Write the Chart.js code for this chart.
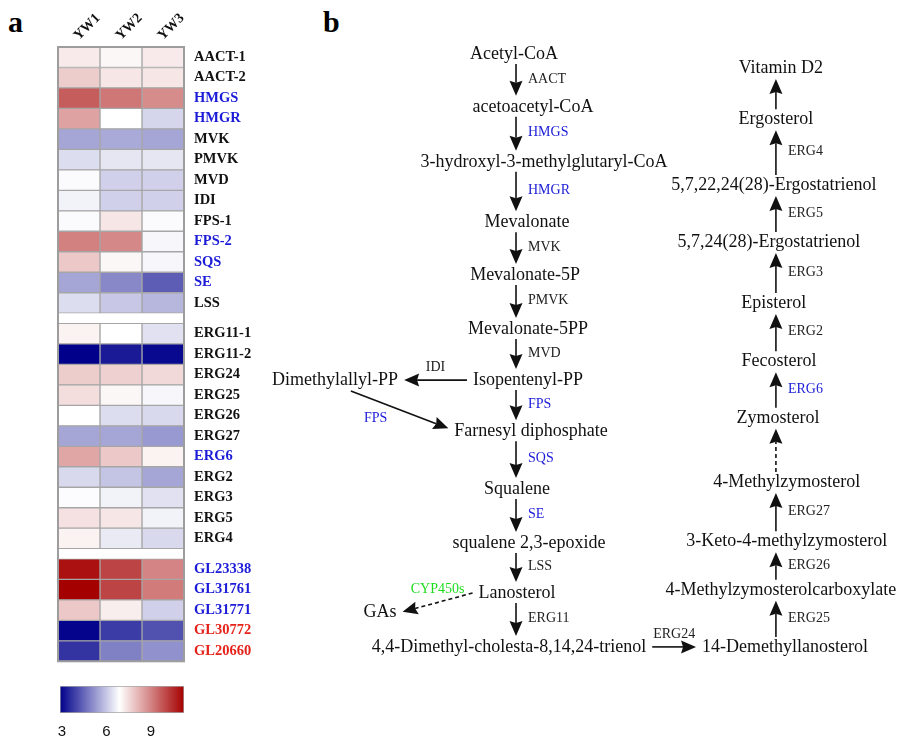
<!DOCTYPE html>
<html>
<head>
<meta charset="utf-8">
<script src="https://cdn.jsdelivr.net/npm/chart.js@4.4.0/dist/chart.umd.min.js"></script>
<style>
  body { margin: 0; background: #fff; }
  #wrap { position: relative; width: 909px; height: 747px; overflow: hidden; background: #fff; }
  canvas { position: absolute; }
  .panel { position: absolute; font: bold 30px "Liberation Serif", serif; line-height: 30px; color: #000; }
</style>
</head>
<body>
<div id="wrap">
  <div class="panel" style="left:8px;top:7px">a</div>
  <div class="panel" style="left:323px;top:7px">b</div>
  <canvas id="heat" width="270" height="680" style="left:0;top:0"></canvas>
  <canvas id="scale" width="270" height="67" style="left:0;top:680px"></canvas>
  <canvas id="path" width="649" height="747" style="left:260px;top:0"></canvas>
</div>
<script>
// ---- heatmap data (a) ----
const columns = ["YW1", "YW2", "YW3"];
const genes = ["AACT-1", "AACT-2", "HMGS", "HMGR", "MVK", "PMVK", "MVD", "IDI", "FPS-1", "FPS-2", "SQS", "SE", "LSS",
  "ERG11-1", "ERG11-2", "ERG24", "ERG25", "ERG26", "ERG27", "ERG6", "ERG2", "ERG3", "ERG5", "ERG4",
  "GL23338", "GL31761", "GL31771", "GL30772", "GL20660"];
const geneGroup = [0,0,0,0,0,0,0,0,0,0,0,0,0, 1,1,1,1,1,1,1,1,1,1,1, 2,2,2,2,2];
const blueGenes = ["HMGS", "HMGR", "FPS-2", "SQS", "SE", "ERG6", "GL23338", "GL31761", "GL31771"];
const redGenes = ["GL30772", "GL20660"];

const yw1 = [6.25, 6.6, 7.9, 7.1, 4.95, 5.6, 5.95, 5.85, 5.95, 7.5, 6.65, 4.95, 5.6,
  6.15, 3.0, 6.6, 6.4, 6.0, 4.95, 7.05, 5.55, 5.97, 6.35, 6.15,
  8.8, 9.0, 6.65, 3.05, 3.6];
const yw2 = [6.1, 6.3, 7.6, 6.0, 5.0, 5.7, 5.45, 5.45, 6.3, 7.4, 6.1, 4.6, 5.35,
  6.0, 3.3, 6.55, 6.1, 5.6, 4.95, 6.65, 5.3, 5.85, 6.3, 5.75,
  8.2, 8.2, 6.2, 3.7, 4.5];
const yw3 = [6.25, 6.3, 7.35, 5.5, 4.95, 5.7, 5.45, 5.45, 5.95, 5.9, 5.9, 4.1, 5.15,
  5.65, 3.1, 6.45, 5.9, 5.55, 4.8, 6.15, 4.95, 5.65, 5.85, 5.55,
  7.45, 7.55, 5.45, 3.95, 4.7];

// colour key
const scaleTicks = [3, 6, 9];
const scaleRange = [2.87, 11.23];

// ---- pathway (b) ----
const nodes = ["Acetyl-CoA", "acetoacetyl-CoA", "3-hydroxyl-3-methylglutaryl-CoA", "Mevalonate", "Mevalonate-5P",
  "Mevalonate-5PP", "Isopentenyl-PP", "Farnesyl diphosphate", "Squalene", "squalene 2,3-epoxide", "Lanosterol",
  "4,4-Dimethyl-cholesta-8,14,24-trienol", "Dimethylallyl-PP", "GAs",
  "Vitamin D2", "Ergosterol", "5,7,22,24(28)-Ergostatrienol", "5,7,24(28)-Ergostatrienol", "Episterol",
  "Fecosterol", "Zymosterol", "4-Methylzymosterol", "3-Keto-4-methylzymosterol",
  "4-Methylzymosterolcarboxylate", "14-Demethyllanosterol"];
// text centre (x) and level (row); nodeCol = column the arrows run in
const nodeX = [-0.008, 0.065, 0.108, 0.042, 0.035, 0.046, 0.046, 0.058, 0.004, 0.05, 0.004, -0.027, -0.696, -0.523,
  1.019, 1.0, 0.992, 0.973, 0.992, 1.012, 1.008, 1.042, 1.042, 1.019, 1.035];
const nodeRow = [0, 0.98, 2.0, 3.12, 4.1, 5.1, 6.05, 7.0, 8.07, 9.07, 10.0, 11.0, 6.05, 10.35,
  0.26, 1.21, 2.43, 3.49, 4.62, 5.7, 6.75, 7.94, 9.04, 9.94, 11.0];
const nodeCol = [0,0,0,0,0,0,0,0,0,0,0,0, null, null, 1,1,1,1,1,1,1,1,1,1,1];

// [from, to, enzyme, dashed]
const steps = [
  ["Acetyl-CoA", "acetoacetyl-CoA", "AACT"],
  ["acetoacetyl-CoA", "3-hydroxyl-3-methylglutaryl-CoA", "HMGS"],
  ["3-hydroxyl-3-methylglutaryl-CoA", "Mevalonate", "HMGR"],
  ["Mevalonate", "Mevalonate-5P", "MVK"],
  ["Mevalonate-5P", "Mevalonate-5PP", "PMVK"],
  ["Mevalonate-5PP", "Isopentenyl-PP", "MVD"],
  ["Isopentenyl-PP", "Dimethylallyl-PP", "IDI"],
  ["Isopentenyl-PP", "Farnesyl diphosphate", "FPS"],
  ["Dimethylallyl-PP", "Farnesyl diphosphate", "FPS"],
  ["Farnesyl diphosphate", "Squalene", "SQS"],
  ["Squalene", "squalene 2,3-epoxide", "SE"],
  ["squalene 2,3-epoxide", "Lanosterol", "LSS"],
  ["Lanosterol", "GAs", "CYP450s", true],
  ["Lanosterol", "4,4-Dimethyl-cholesta-8,14,24-trienol", "ERG11"],
  ["4,4-Dimethyl-cholesta-8,14,24-trienol", "14-Demethyllanosterol", "ERG24"],
  ["14-Demethyllanosterol", "4-Methylzymosterolcarboxylate", "ERG25"],
  ["4-Methylzymosterolcarboxylate", "3-Keto-4-methylzymosterol", "ERG26"],
  ["3-Keto-4-methylzymosterol", "4-Methylzymosterol", "ERG27"],
  ["4-Methylzymosterol", "Zymosterol", "", true],
  ["Zymosterol", "Fecosterol", "ERG6"],
  ["Fecosterol", "Episterol", "ERG2"],
  ["Episterol", "5,7,24(28)-Ergostatrienol", "ERG3"],
  ["5,7,24(28)-Ergostatrienol", "5,7,22,24(28)-Ergostatrienol", "ERG5"],
  ["5,7,22,24(28)-Ergostatrienol", "Ergosterol", "ERG4"],
  ["Ergosterol", "Vitamin D2", ""]
];
const blueEnzymes = ["HMGS", "HMGR", "FPS", "SQS", "SE", "ERG6"];
const greenEnzymes = ["CYP450s"];

// ---- styles ----
const NAVY = [0, 0, 139], WHITE = [255, 255, 255], RED = [165, 0, 0];
const LOW = 3, MID = 6, HIGH = 9;
const BLUE = "#1c1cd8", REDTXT = "#e5231b", GREEN = "#1fdc1f";
const SERIF = "'Liberation Serif', 'Times New Roman', serif";

let mix = function(c1, c2, t){
  t = Math.max(0, Math.min(1, t));
  return "rgb(" + c1.map((v, k) => Math.round(v + (c2[k] - v) * t)).join(",") + ")";
}
let heatColor = function(v){
  if(v < MID) return mix(WHITE, NAVY, (MID - v) / (MID - LOW));
  return mix(WHITE, RED, (v - MID) / (HIGH - MID));
}
let geneLabelColor = function(g){
  if(blueGenes.includes(g)) return BLUE;
  if(redGenes.includes(g)) return REDTXT;
  return "#111";
}

const rowPos = genes.map((g, i) => i + 0.5 + geneGroup[i] * 0.5);
const rowMax = rowPos[rowPos.length - 1] + 0.5;
const series = [yw1, yw2, yw3];

const frame = {
  id: "frame",
  afterDatasetsDraw(chart){
    const {ctx, chartArea: a} = chart;
    ctx.save();
    ctx.strokeStyle = "#9d9d9d";
    ctx.lineWidth = 2;
    ctx.strokeRect(a.left, a.top, a.right - a.left, a.bottom - a.top);
    ctx.restore();
  }
};

new Chart(document.getElementById("heat"), {
  type: "bar",
  data: {
    datasets: series.map((vals, c) => ({
      label: columns[c],
      data: vals.map((v, i) => ({x: [c, c + 1], y: rowPos[i]})),
      backgroundColor: vals.map(heatColor),
      borderColor: "#a6a6a6",
      borderWidth: 1,
      borderSkipped: false,
      grouped: false,
      categoryPercentage: 1,
      barPercentage: 1
    }))
  },
  options: {
    indexAxis: "y",
    responsive: false,
    animation: false,
    layout: {padding: {left: 58, right: 0, top: 0, bottom: 6}},
    plugins: {legend: {display: false}, tooltip: {enabled: false}},
    scales: {
      x: {
        type: "linear", position: "top", min: 0, max: columns.length,
        grid: {display: false, drawTicks: false}, border: {display: false},
        afterBuildTicks: s => { s.ticks = columns.map((c, i) => ({value: i + 0.5})); },
        afterFit: s => { s.height = 47; },
        ticks: {
          autoSkip: false, minRotation: 45, maxRotation: 45, padding: 3, labelOffset: 9, color: "#111",
          font: {family: SERIF, size: 14, weight: "bold"},
          callback: v => columns[Math.floor(v)]
        }
      },
      y: {
        type: "linear", position: "right", reverse: true, min: 0, max: rowMax, offset: false,
        grid: {display: false, drawTicks: false}, border: {display: false},
        afterBuildTicks: s => { s.ticks = rowPos.map(v => ({value: v})); },
        afterFit: s => { s.width = 86; },
        ticks: {
          autoSkip: false, padding: 10,
          font: {family: SERIF, size: 14.5, weight: "bold"},
          color: ctx => geneLabelColor(genes[ctx.index]),
          callback: (v, i) => genes[i]
        }
      }
    }
  },
  plugins: [frame]
});

// colour key
new Chart(document.getElementById("scale"), {
  type: "bar",
  data: {
    labels: [""],
    datasets: [{
      data: [scaleRange],
      backgroundColor: c => {
        const a = c.chart.chartArea;
        if(!a) return "#fff";
        const g = c.chart.ctx.createLinearGradient(a.left, 0, a.right, 0);
        g.addColorStop(0, mix(NAVY, NAVY, 0));
        g.addColorStop(0.48, "#fff");
        g.addColorStop(1, mix(RED, RED, 0));
        return g;
      },
      borderColor: "#a6a6a6",
      borderWidth: 1,
      borderSkipped: false,
      categoryPercentage: 1,
      barPercentage: 1
    }]
  },
  options: {
    indexAxis: "y",
    responsive: false,
    animation: false,
    layout: {padding: {left: 60, right: 86, top: 6, bottom: 0}},
    plugins: {legend: {display: false}, tooltip: {enabled: false}},
    scales: {
      y: {display: false},
      x: {
        type: "linear", min: scaleRange[0], max: scaleRange[1],
        grid: {display: false, drawTicks: false}, border: {display: false},
        afterBuildTicks: s => { s.ticks = scaleTicks.map(v => ({value: v})); },
        afterFit: s => { s.height = 34; },
        ticks: {padding: 10, color: "#111", font: {family: "'Liberation Sans', Arial, sans-serif", size: 15}}
      }
    }
  }
});

// pathway drawing
let drawArrow = function(ctx, p, q, dashed){
  const ang = Math.atan2(q.y - p.y, q.x - p.x);
  const L = 15, W = 6.5, cs = Math.cos(ang), sn = Math.sin(ang);
  const bx = q.x - L * cs, by = q.y - L * sn;
  ctx.beginPath();
  ctx.setLineDash(dashed ? [4, 3] : []);
  ctx.moveTo(p.x, p.y);
  ctx.lineTo(bx + 2 * cs, by + 2 * sn);
  ctx.stroke();
  ctx.setLineDash([]);
  ctx.beginPath();
  ctx.moveTo(q.x, q.y);
  ctx.lineTo(bx - W * sn, by + W * cs);
  ctx.lineTo(bx + 2 * cs, by + 2 * sn);
  ctx.lineTo(bx + W * sn, by - W * cs);
  ctx.closePath();
  ctx.fill();
}

const pathway = {
  id: "pathway",
  afterDatasetsDraw(chart){
    const {ctx, scales: {x, y}} = chart;
    ctx.save();
    ctx.font = "18px " + SERIF;
    const box = nodes.map((name, i) => {
      const cx = x.getPixelForValue(nodeX[i]), cy = y.getPixelForValue(nodeRow[i]);
      const w = ctx.measureText(name).width;
      const ax = nodeCol[i] === null ? cx : x.getPixelForValue(nodeCol[i]);
      return {cx, cy, ax, l: cx - w / 2, r: cx + w / 2, t: cy - 8, b: cy + 8};
    });

    ctx.strokeStyle = "#111";
    ctx.fillStyle = "#111";
    ctx.lineWidth = 1.6;
    steps.forEach(([from, to, enzyme, dashed]) => {
      const ia = nodes.indexOf(from), ib = nodes.indexOf(to);
      const a = box[ia], b = box[ib];
      let p, q, kind;
      if(nodeCol[ia] !== null && nodeCol[ia] === nodeCol[ib]){
        kind = "v";
        const dir = b.cy > a.cy ? 1 : -1;
        p = {x: a.ax, y: a.cy + dir * 10};
        q = {x: a.ax, y: b.cy - dir * 11};
      } else if(Math.abs(b.cy - a.cy) < 27){
        kind = "h";
        const dir = b.cx > a.cx ? 1 : -1;
        p = {x: (dir > 0 ? a.r : a.l) + dir * 6, y: a.cy};
        q = {x: (dir > 0 ? b.l : b.r) - dir * 6, y: b.cy};
      } else {
        kind = "d";
        p = {x: a.cx + (a.r - a.cx) * 0.25, y: a.b + 3};
        q = {x: b.cx > a.cx ? b.l - 6 : b.r + 6, y: b.cy - 3};
      }
      ctx.fillStyle = "#111";
      drawArrow(ctx, p, q, dashed);

      if(enzyme){
        ctx.font = "14px " + SERIF;
        ctx.fillStyle = blueEnzymes.includes(enzyme) ? BLUE : (greenEnzymes.includes(enzyme) ? GREEN : "#222");
        ctx.textBaseline = "middle";
        const mx = (p.x + q.x) / 2, my = (p.y + q.y) / 2;
        if(kind === "v"){
          ctx.textAlign = "left";
          ctx.fillText(enzyme, mx + 12, my - 1);
        } else if(kind === "h"){
          ctx.textAlign = "center";
          ctx.fillText(enzyme, mx, my - 13);
        } else {
          ctx.textAlign = "center";
          ctx.fillText(enzyme, mx - 24, my + 9);
        }
      }
    });

    ctx.font = "18px " + SERIF;
    ctx.fillStyle = "#111";
    ctx.textAlign = "center";
    ctx.textBaseline = "middle";
    nodes.forEach((name, i) => ctx.fillText(name, box[i].cx, box[i].cy));
    ctx.restore();
  }
};

new Chart(document.getElementById("path"), {
  type: "scatter",
  data: {
    datasets: [{data: nodes.map((n, i) => ({x: nodeX[i], y: nodeRow[i]})), pointRadius: 0}]
  },
  options: {
    responsive: false,
    animation: false,
    layout: {padding: 0},
    plugins: {legend: {display: false}, tooltip: {enabled: false}},
    scales: {
      x: {type: "linear", display: false, min: -0.985, max: 1.512},
      y: {type: "linear", display: false, min: -1.002, max: 12.857, reverse: true}
    }
  },
  plugins: [pathway]
});
</script>
</body>
</html>
